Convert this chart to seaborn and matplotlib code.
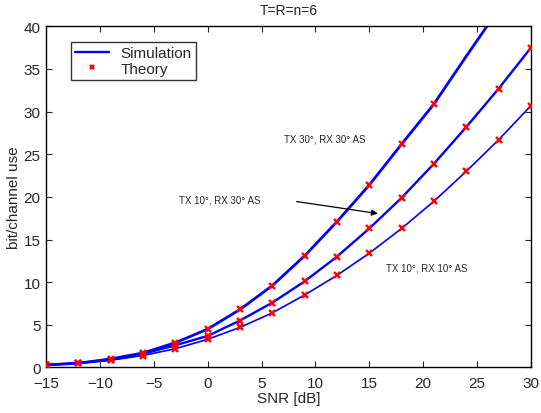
import numpy as np
import pandas as pd
import matplotlib
matplotlib.use('Agg')
import matplotlib.pyplot as plt
import seaborn as sns

# SNR grid in dB
snr = [-15, -12, -9, -6, -3, 0, 3, 6, 9, 12, 15, 18, 21, 24, 27, 30]

# capacity values (bit/channel use)
tx30_rx30 = [0.3, 0.5, 1.0, 1.7, 2.9, 4.5, 6.8, 9.6, 13.1, 17.1, 21.4, 26.2, 30.9, 36.5, 42.0]
tx10_rx30 = [0.3, 0.5, 0.9, 1.6, 2.6, 3.7, 5.5, 7.6, 10.1, 13.0, 16.3, 19.9, 23.9, 28.2, 32.7, 37.5]
tx10_rx10 = [0.3, 0.5, 0.85, 1.4, 2.2, 3.3, 4.7, 6.4, 8.5, 10.8, 13.4, 16.3, 19.5, 23.0, 26.7, 30.7]

# theory markers on the top curve stop at 21 dB
n_theory_top = 13

labels = ['TX 30°, RX 30° AS', 'TX 10°, RX 30° AS', 'TX 10°, RX 10° AS']

sns.set_style('ticks')
plt.rcParams['font.family'] = ['Liberation Sans', 'DejaVu Sans']

fig = plt.figure(figsize=(5.41, 4.14), dpi=100)
ax = fig.add_axes([0.085, 0.110, 0.8965, 0.824])

curves = [tx30_rx30, tx10_rx30, tx10_rx10]
widths = [2.0, 1.7, 1.2]
for vals, lw in zip(curves, widths):
    df = pd.DataFrame({'snr': snr[:len(vals)], 'cap': vals})
    sns.lineplot(data=df, x='snr', y='cap', color='blue', linewidth=lw, ax=ax, clip_on=True)

for i, vals in enumerate(curves):
    n = n_theory_top if i == 0 else len(vals)
    df = pd.DataFrame({'snr': snr[:n], 'cap': vals[:n]})
    ax.plot(df['snr'], df['cap'], linestyle='none', marker='x', color='red',
            markersize=4, markeredgewidth=1.7, zorder=5)

# legend handles
ax.plot([], [], color='blue', linewidth=1.7, label='Simulation')
ax.plot([], [], linestyle='none', marker='x', color='red', markersize=3.5,
        markeredgewidth=1.7, label='Theory')
leg = ax.legend(loc='upper left', bbox_to_anchor=(0.036, 0.975), fontsize=11,
                frameon=True, fancybox=False, borderpad=0.25, handlelength=2.2,
                labelspacing=0.1)
leg.get_frame().set_edgecolor('black')
leg.get_frame().set_linewidth(1.0)

# curve labels
ax.text(10.9, 26.9, labels[0], fontsize=7, ha='center', va='center')
ax.text(1.1, 19.7, labels[1], fontsize=7, ha='center', va='center')
ax.text(20.3, 11.7, labels[2], fontsize=7, ha='center', va='center')
ax.annotate('', xy=(16.05, 18.0), xytext=(8.0, 19.5),
            arrowprops=dict(arrowstyle='-|>', color='black', lw=0.9, mutation_scale=9))

ax.set_xlim(-15, 30)
ax.set_ylim(0, 40)
ax.set_xticks(np.arange(-15, 31, 5))
ax.set_yticks(np.arange(0, 41, 5))
ax.set_xticklabels(['\u221215', '\u221210', '\u22125', '0', '5', '10', '15', '20', '25', '30'])
ax.tick_params(direction='in', top=True, right=True, labelsize=11, length=4, width=0.8)
ax.tick_params(axis='x', pad=6)
ax.tick_params(axis='y', pad=4)
for s in ax.spines.values():
    s.set_visible(True)
    s.set_linewidth(1.0)
    s.set_color('black')

ax.set_title('T=R=n=6', fontsize=10, pad=9)
ax.set_xlabel('SNR [dB]', fontsize=11, labelpad=1)
ax.set_ylabel('bit/channel use', fontsize=11, labelpad=2)

fig.savefig('out.png', dpi=100)
